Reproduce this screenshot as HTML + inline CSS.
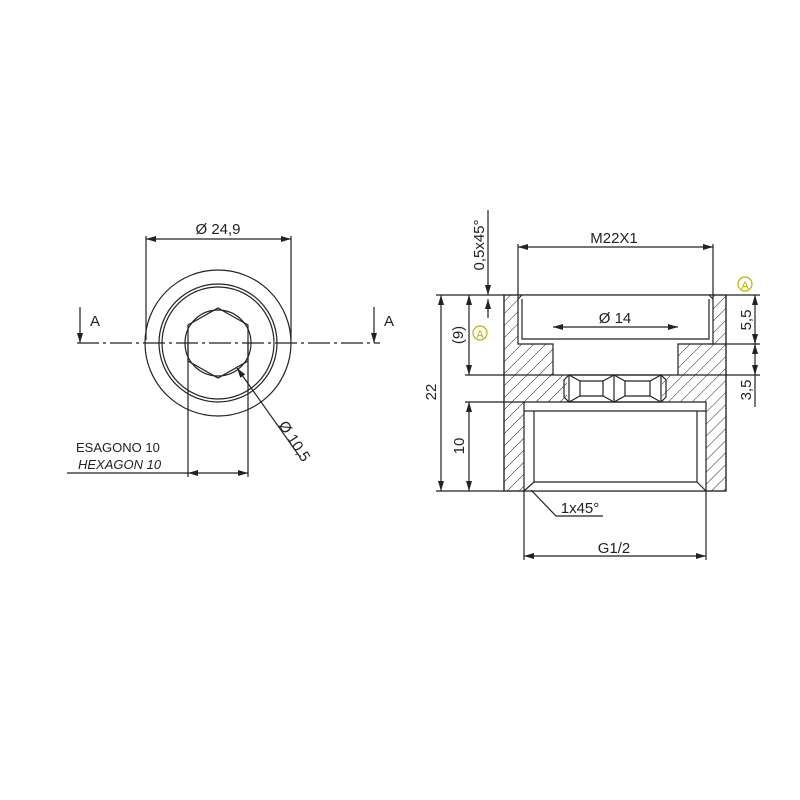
<!DOCTYPE html>
<html><head><style>body{margin:0;background:#fff}svg{display:block}text{font-family:"Liberation Sans",sans-serif;fill:#222}</style></head><body>
<svg width="800" height="800" viewBox="0 0 800 800" xmlns="http://www.w3.org/2000/svg">
<defs>
<pattern id="h" patternUnits="userSpaceOnUse" width="8.5" height="8.5" patternTransform="rotate(45)">
<line x1="0" y1="0" x2="0" y2="8.5" stroke="#222" stroke-width="1"/></pattern>
<marker id="a" viewBox="0 0 10 6" refX="10" refY="3" markerWidth="10" markerHeight="6" orient="auto-start-reverse" markerUnits="userSpaceOnUse"><path d="M0,0L10,3L0,6z" fill="#222"/></marker>
</defs>
<g stroke="#222" fill="none" stroke-width="1.2">
<circle cx="218" cy="343" r="73"/>
<circle cx="218" cy="343" r="59"/>
<circle cx="218" cy="343" r="56"/>
<circle cx="218" cy="343" r="33"/>
<polygon points="218,308 248,325 248,361 218,378 188,361 188,325"/>
<line x1="77" y1="343" x2="380" y2="343" stroke-dasharray="22,4,3,4"/>
<line x1="80" y1="307" x2="80" y2="343" marker-end="url(#a)"/>
<line x1="374" y1="307" x2="374" y2="343" marker-end="url(#a)"/>
<line x1="146" y1="236" x2="146" y2="340"/><line x1="291" y1="236" x2="291" y2="340"/>
<line x1="146" y1="239" x2="291" y2="239" marker-start="url(#a)" marker-end="url(#a)"/>
<line x1="188" y1="343" x2="188" y2="477"/><line x1="248" y1="343" x2="248" y2="477"/>
<line x1="67" y1="473" x2="188" y2="473"/>
<line x1="188" y1="473" x2="248" y2="473" marker-start="url(#a)" marker-end="url(#a)"/>
<line x1="300" y1="457" x2="237" y2="368" marker-end="url(#a)"/>
<rect x="504" y="295" width="222" height="196" fill="url(#h)"/>
<path d="M518,295H713V344H518Z M553,344H678V375H553Z M567,375H662V402H567Z M524,402H706V491H524Z" fill="#fff" stroke="none"/>
<rect x="504" y="295" width="222" height="196"/>
<polyline points="518,295 518,344 553,344 553,375"/><polyline points="713,295 713,344 678,344 678,375"/>
<polyline points="522,299 522,339 709,339 709,299"/>
<line x1="518" y1="299" x2="522" y2="295"/><line x1="713" y1="299" x2="709" y2="295"/>
<line x1="553" y1="375" x2="678" y2="375"/>
<polyline points="524,491 524,402 706,402 706,491"/>
<polyline points="534,482 534,411 697,411 697,482"/>
<line x1="524" y1="411" x2="534" y2="411"/><line x1="697" y1="411" x2="706" y2="411"/>
<line x1="524" y1="491" x2="534" y2="482"/><line x1="706" y1="491" x2="697" y2="482"/>
<line x1="534" y1="482" x2="697" y2="482"/>
<path d="M569,375L564,380L564,397L569,402H661L666,397L666,380L661,375Z"/>
<path d="M569,375V402 M614,375V402 M661,375V402"/>
<path d="M569,375L580,381H603L614,375 M569,402L580,396H603L614,402 M580,381V396 M603,381V396"/>
<path d="M614,375L625,381H650L661,375 M614,402L625,396H650L661,402 M625,381V396 M650,381V396"/>
<line x1="518" y1="244" x2="518" y2="295"/><line x1="713" y1="244" x2="713" y2="295"/>
<line x1="518" y1="247" x2="713" y2="247" marker-start="url(#a)" marker-end="url(#a)"/>
<line x1="436" y1="295" x2="504" y2="295"/><line x1="436" y1="491" x2="504" y2="491"/>
<line x1="465" y1="375" x2="553" y2="375"/><line x1="465" y1="402" x2="524" y2="402"/>
<line x1="441" y1="295" x2="441" y2="491" marker-start="url(#a)" marker-end="url(#a)"/>
<line x1="469" y1="295" x2="469" y2="375" marker-start="url(#a)" marker-end="url(#a)"/>
<line x1="469" y1="402" x2="469" y2="491" marker-start="url(#a)" marker-end="url(#a)"/>
<line x1="488" y1="210" x2="488" y2="295" marker-end="url(#a)"/>
<line x1="488" y1="318" x2="488" y2="299" marker-end="url(#a)"/>
<line x1="553" y1="327" x2="678" y2="327" marker-start="url(#a)" marker-end="url(#a)"/>
<line x1="726" y1="295" x2="760" y2="295"/><line x1="709" y1="344" x2="760" y2="344"/><line x1="678" y1="375" x2="760" y2="375"/>
<line x1="755" y1="295" x2="755" y2="344" marker-start="url(#a)" marker-end="url(#a)"/>
<line x1="755" y1="344" x2="755" y2="375" marker-start="url(#a)" marker-end="url(#a)"/>
<line x1="755" y1="375" x2="755" y2="407"/>
<line x1="524" y1="491" x2="524" y2="560"/><line x1="706" y1="491" x2="706" y2="560"/>
<line x1="524" y1="556" x2="706" y2="556" marker-start="url(#a)" marker-end="url(#a)"/>
<polyline points="603,516 556,516 531,490"/>
<circle cx="480" cy="333" r="7" stroke="#b8b400"/><circle cx="745" cy="284" r="7" stroke="#b8b400"/>
</g>
<g font-size="15">
<text x="218" y="234" text-anchor="middle">Ø 24,9</text>
<text x="90" y="326">A</text><text x="384" y="326">A</text>
<text x="76" y="452" font-size="13">ESAGONO 10</text>
<text x="78" y="469" font-size="13" font-style="italic">HEXAGON 10</text>
<text transform="translate(278,425) rotate(57)" >Ø 10,5</text>
<text x="614" y="243" text-anchor="middle">M22X1</text>
<text x="615" y="323" text-anchor="middle">Ø 14</text>
<text x="614" y="553" text-anchor="middle">G1/2</text>
<text x="580" y="513" text-anchor="middle">1x45°</text>
<text transform="translate(436,392) rotate(-90)" text-anchor="middle">22</text>
<text transform="translate(463,335) rotate(-90)" text-anchor="middle">(9)</text>
<text transform="translate(464,446) rotate(-90)" text-anchor="middle">10</text>
<text transform="translate(484,245) rotate(-90)" text-anchor="middle">0,5x45°</text>
<text transform="translate(751,320) rotate(-90)" text-anchor="middle">5,5</text>
<text transform="translate(751,390) rotate(-90)" text-anchor="middle">3,5</text>
<text x="480" y="338" text-anchor="middle" font-size="11" style="fill:#b8b400">A</text>
<text x="745" y="289" text-anchor="middle" font-size="11" style="fill:#b8b400">A</text>
</g>
</svg>
</body></html>
